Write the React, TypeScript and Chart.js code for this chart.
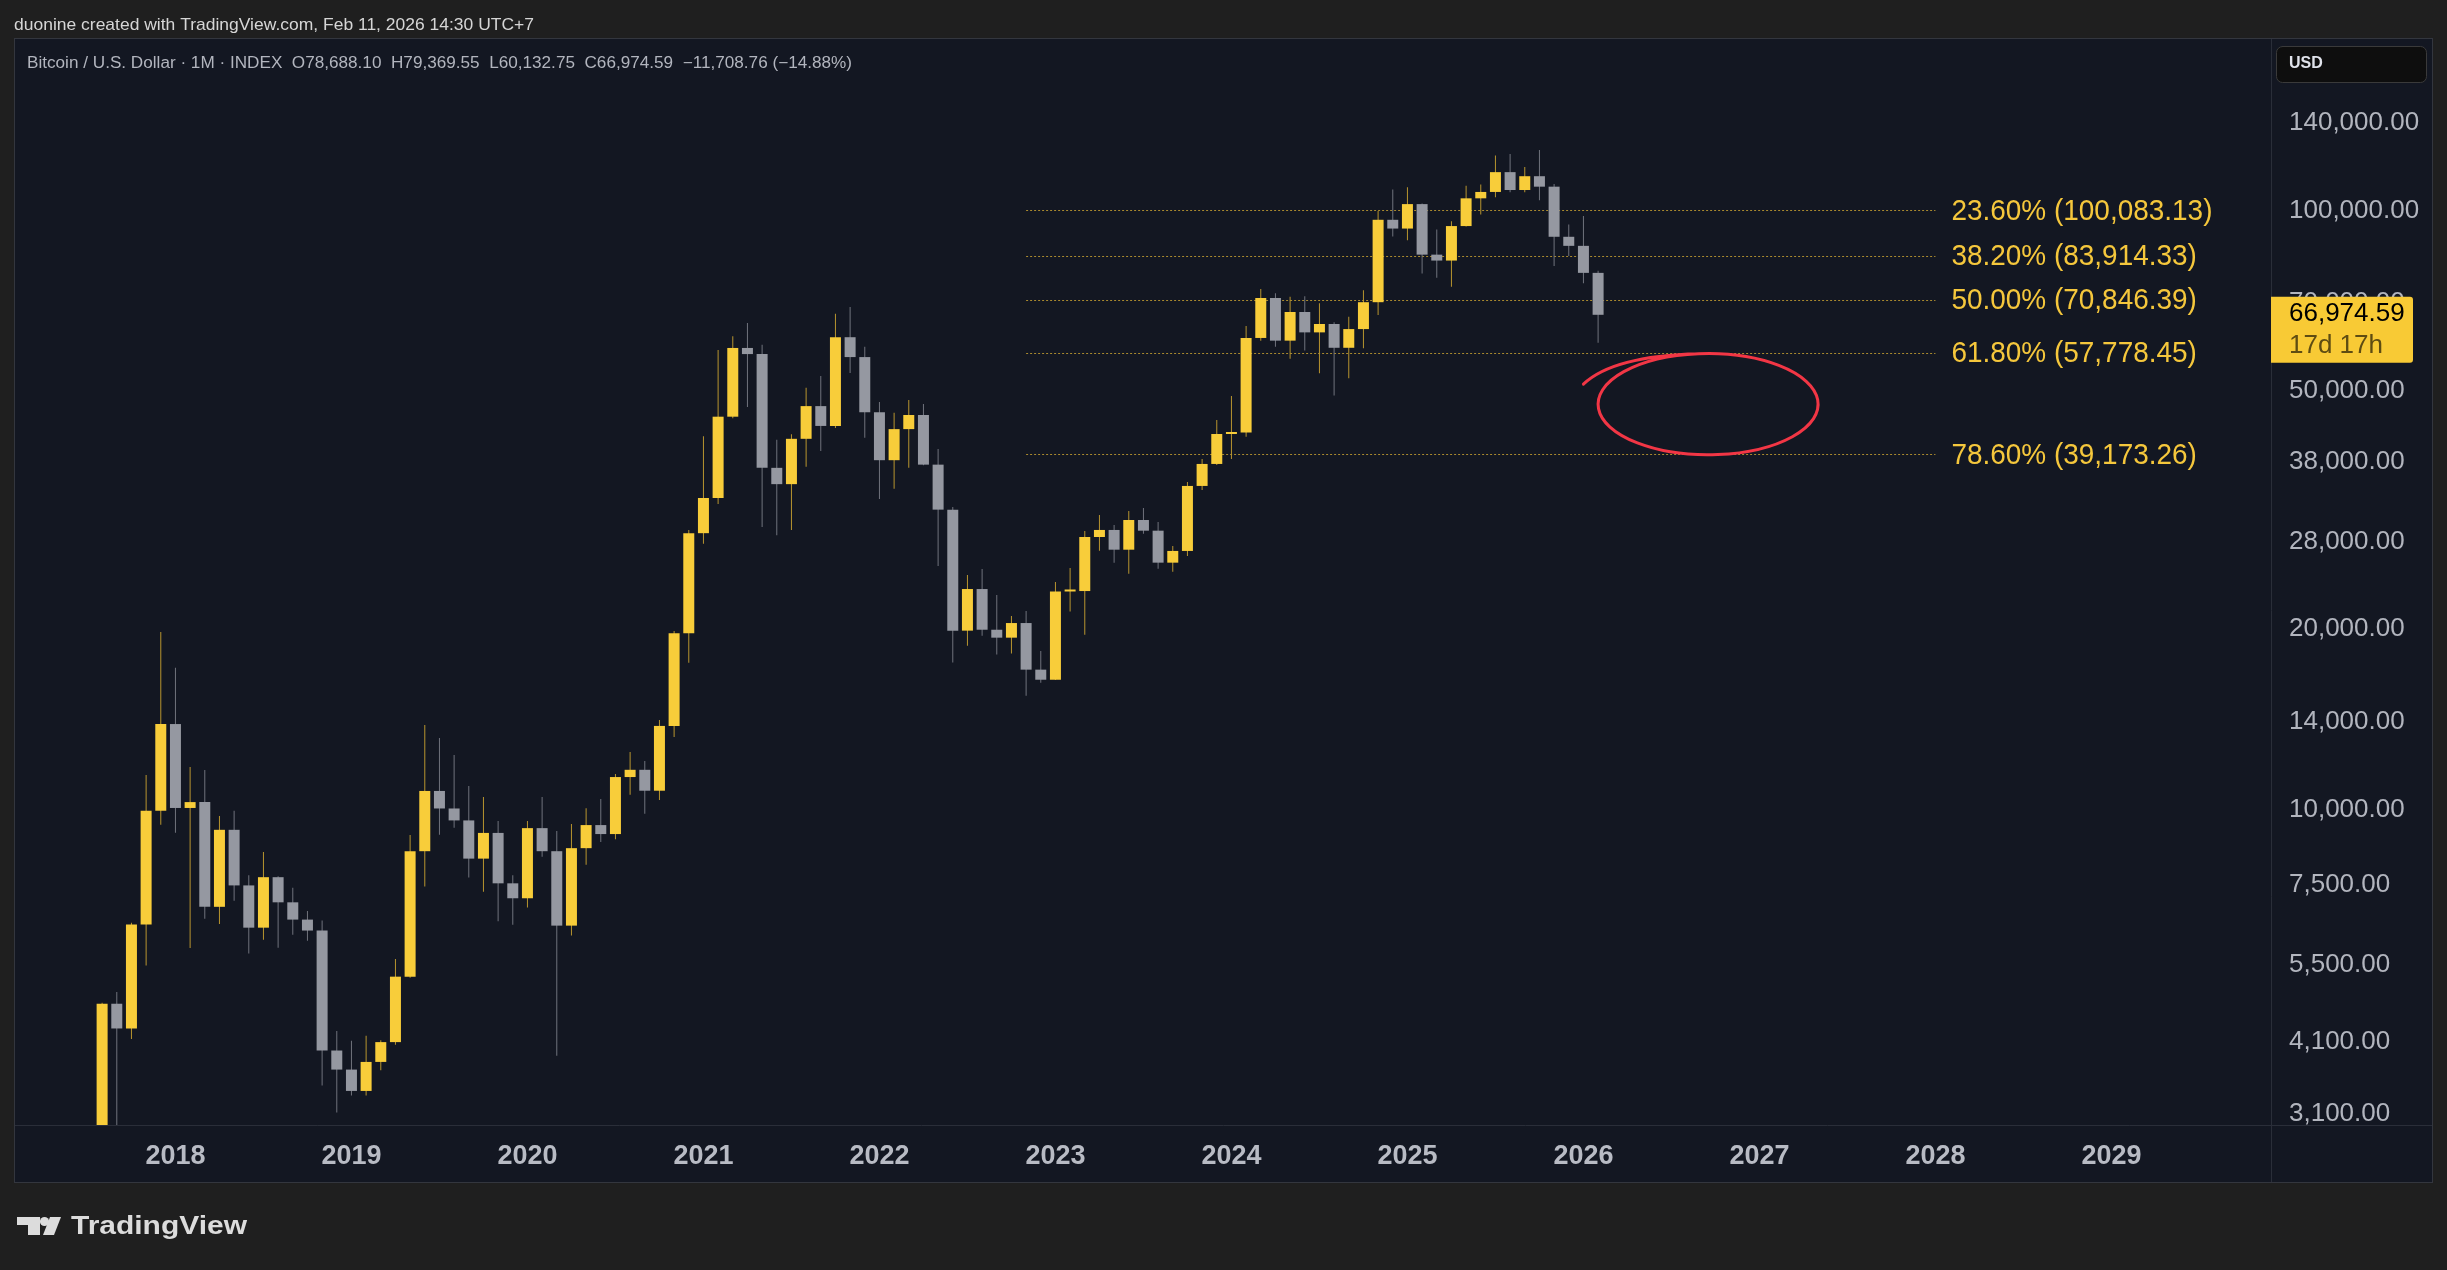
import React, { useEffect, useRef } from "react";
import { Chart, registerables } from "chart.js";

Chart.register(...registerables);

const W = 2447;
const H = 1270;
const FONT = "'Liberation Sans', Arial, sans-serif";

// ---------------- data ----------------
const startMonth = "2017-08";

const opens = [
  2871, 4740, 4310, 6430, 9950, 13890, 10060, 10290, 6880, 9250, 7470, 6350,
  7710, 7000, 6550, 6280, 3960, 3680, 3390, 3790, 4090, 5260, 8520, 10740,
  10040, 9590, 8280, 9140, 7530, 7110, 9310, 8520, 6400, 8620, 9420, 9100,
  11330, 11650, 10750, 13790, 19700, 28930, 33120, 45270, 58960, 57590, 37190, 34930,
  41580, 47150, 43690, 61450, 56930, 46050, 38300, 43160, 45570, 37650, 31670, 19890,
  23340, 19960, 19360, 20480, 17120, 16470, 23120, 23160, 28510, 29290, 27150, 30430,
  29210, 25830, 27020, 34690, 37750, 42360, 42600, 61270, 71450, 60640, 67700, 62600,
  64650, 59000, 63400, 70300, 96500, 93300, 102500, 84400, 82500, 94200, 104800, 107400,
  115900, 108200, 114100, 109600, 90400, 87300, 78688.1,
];
const highs = [
  4760, 4960, 6470, 11420, 19780, 17240, 11780, 11640, 9750, 9950, 7770, 8490,
  7740, 7400, 6770, 6530, 4270, 4110, 4190, 4120, 5630, 9070, 13840, 13170,
  12330, 10950, 10490, 9570, 7770, 9570, 10490, 9210, 9460, 10050, 10410, 11460,
  12470, 12050, 14110, 19860, 29280, 42010, 58510, 61700, 64920, 59670, 41430, 42330,
  50600, 52940, 67240, 69000, 59210, 47900, 45950, 48270, 47530, 39980, 32000, 24630,
  25210, 22810, 21040, 21450, 18400, 23980, 25310, 29170, 31020, 29850, 31500, 31870,
  30200, 27540, 35230, 38480, 44710, 49020, 64160, 73960, 72740, 71810, 71950, 70000,
  65100, 66500, 73600, 99800, 108400, 109400, 102700, 93000, 96000, 110000, 110500, 123500,
  124300, 118200, 126200, 110700, 94800, 97900, 79369.55,
];
const lows = [
  2600, 2970, 4140, 5490, 9430, 9150, 5870, 6570, 6440, 7040, 5750, 6060,
  5880, 6180, 6040, 3460, 3120, 3330, 3330, 3670, 4050, 5240, 7440, 9080,
  9320, 7700, 7290, 6510, 6420, 6860, 8340, 3880, 6160, 8090, 8830, 8920,
  10580, 9840, 10370, 13210, 17580, 27770, 32350, 45000, 46980, 29630, 28710, 29280,
  37350, 39680, 43330, 53550, 41750, 32990, 34310, 37210, 37580, 25500, 17590, 18770,
  19510, 18140, 18210, 15490, 16280, 16450, 21400, 19580, 27050, 25830, 24760, 28880,
  25240, 24950, 26500, 34150, 37600, 38480, 41920, 60600, 59260, 56580, 58400, 53500,
  49100, 52500, 58900, 66900, 90500, 89200, 78500, 77200, 74600, 94000, 98500, 105200,
  107300, 107300, 104000, 80800, 84000, 75600, 60132.75,
];
const closes = [
  4740, 4310, 6430, 9950, 13890, 10060, 10290, 6880, 9250, 7470, 6350, 7710,
  7000, 6550, 6280, 3960, 3680, 3390, 3790, 4090, 5260, 8520, 10740, 10040,
  9590, 8280, 9140, 7530, 7110, 9310, 8520, 6400, 8620, 9420, 9100, 11330,
  11650, 10750, 13790, 19700, 28930, 33120, 45270, 58960, 57590, 37190, 34930, 41580,
  47150, 43690, 61450, 56930, 46050, 38300, 43160, 45570, 37650, 31670, 19890, 23340,
  19960, 19360, 20480, 17120, 16470, 23120, 23160, 28510, 29290, 27150, 30430, 29210,
  25830, 27020, 34690, 37750, 42360, 42600, 61270, 71450, 60640, 67700, 62600, 64650,
  59000, 63400, 70300, 96500, 93300, 102500, 84400, 82500, 94200, 104800, 107400, 115900,
  108200, 114100, 109600, 90400, 87300, 78688.1, 66974.59,
];

const yTickValues = [3100, 4100, 5500, 7500, 10000, 14000, 20000, 28000, 38000, 50000, 70000, 100000, 140000];
const yearLabels = ["2018", "2019", "2020", "2021", "2022", "2023", "2024", "2025", "2026", "2027", "2028", "2029"];

const fibPercents = ["23.60%", "38.20%", "50.00%", "61.80%", "78.60%"];
const fibLevels = [100083.13, 83914.33, 70846.39, 57778.45, 39173.26];
const fibStartMonth = "2022-11";
const fibEndMonth = "2028-01";

const circleMonths = ["2026-02", "2027-05"];
const circlePrices = [57700, 39100];
const circleTailMonth = "2026-01";
const circleTailPrice = 51300;

const viewMonths = [-10.94, 142.88];
const viewPrices = [2974, 193350];

const headerText = "duonine created with TradingView.com, Feb 11, 2026 14:30 UTC+7";
const legendText =
  "Bitcoin / U.S. Dollar \u00b7 1M \u00b7 INDEX  O78,688.10  H79,369.55  L60,132.75  C66,974.59  \u221211,708.76 (\u221214.88%)";
const countdownText = "17d 17h";
const currencyText = "USD";
const brandText = "TradingView";

// ---------------- styles ----------------
const OUTER_BG = "#1f1f1f";
const PANEL_BG = "#131722";
const SEP = "#2a2e39";
const UP_BODY = "#f8cd3a";
const DOWN_BODY = "#9598a1";
const UP_WICK = "#b8952f";
const DOWN_WICK = "#70737d";
const AXIS_TEXT = "#b2b5be";
const FIB_LINE = "#a98a2f";
const FIB_TEXT = "#f5c73c";
const TAG_BG = "#f8ca35";
const RED = "#f23645";

function monthIndex(s: string): number {
  const [y, m] = s.split("-").map(Number);
  return (y - 2018) * 12 + (m - 1);
}

function fmt2(v: number): string {
  return v.toLocaleString("en-US", { minimumFractionDigits: 2, maximumFractionDigits: 2 });
}

function drawScaledText(ctx: CanvasRenderingContext2D, text: string, x: number, y: number, scaleX: number, font: string, color: string) {
  ctx.save();
  ctx.font = font;
  ctx.translate(x, y);
  ctx.scale(scaleX, 1);
  ctx.fillStyle = color;
  ctx.textAlign = "left";
  ctx.textBaseline = "middle";
  ctx.fillText(text, 0, 0);
  ctx.restore();
}

function fitText(ctx: CanvasRenderingContext2D, text: string, x: number, y: number, width: number, font: string, color: string) {
  ctx.save();
  ctx.font = font;
  const w = ctx.measureText(text).width;
  ctx.restore();
  drawScaledText(ctx, text, x, y, width / w, font, color);
}

const decor = {
  id: "decor",
  beforeDraw(chart: any) {
    const { ctx, chartArea } = chart;
    const xs = chart.scales.x;
    const ys = chart.scales.y;
    ctx.save();
    ctx.fillStyle = OUTER_BG;
    ctx.fillRect(0, 0, W, H);
    ctx.fillStyle = PANEL_BG;
    ctx.fillRect(chartArea.left, chartArea.top, ys.right - chartArea.left, xs.bottom - chartArea.top);
    ctx.restore();
  },
  beforeDatasetsDraw(chart: any) {
    const { ctx } = chart;
    const xs = chart.scales.x;
    const ys = chart.scales.y;
    const x0 = xs.getPixelForValue(monthIndex(fibStartMonth));
    const x1 = xs.getPixelForValue(monthIndex(fibEndMonth));
    ctx.save();
    ctx.strokeStyle = FIB_LINE;
    ctx.lineWidth = 1;
    ctx.setLineDash([2, 2]);
    fibLevels.forEach((v) => {
      const y = Math.round(ys.getPixelForValue(v)) + 0.5;
      ctx.beginPath();
      ctx.moveTo(x0, y);
      ctx.lineTo(x1, y);
      ctx.stroke();
    });
    ctx.restore();
  },
  afterDraw(chart: any) {
    const { ctx, chartArea } = chart;
    const xs = chart.scales.x;
    const ys = chart.scales.y;
    const L = chartArea.left;
    const T = chartArea.top;
    const R = ys.right;
    const B = xs.bottom;
    ctx.save();

    // panel border + separators
    ctx.strokeStyle = "#33363e";
    ctx.lineWidth = 1;
    ctx.strokeRect(L - 0.5, T - 0.5, R - L + 1, B - T + 1);
    ctx.strokeStyle = SEP;
    ctx.beginPath();
    ctx.moveTo(Math.round(chartArea.right) + 0.5, T);
    ctx.lineTo(Math.round(chartArea.right) + 0.5, B);
    ctx.moveTo(L, Math.round(chartArea.bottom) + 0.5);
    ctx.lineTo(R, Math.round(chartArea.bottom) + 0.5);
    ctx.stroke();

    // fib labels
    const x1 = xs.getPixelForValue(monthIndex(fibEndMonth));
    const fibFont = `30px ${FONT}`;
    ctx.font = fibFont;
    const firstLabel = `${fibPercents[0]} (${fmt2(fibLevels[0])})`;
    const sx = 261 / ctx.measureText(firstLabel).width;
    fibLevels.forEach((v, i) => {
      const label = `${fibPercents[i]} (${fmt2(v)})`;
      drawScaledText(ctx, label, x1 + 16, ys.getPixelForValue(v) + 1, sx, fibFont, FIB_TEXT);
    });

    // red hand-drawn circle
    const cxL = xs.getPixelForValue(monthIndex(circleMonths[0]));
    const cxR = xs.getPixelForValue(monthIndex(circleMonths[1]));
    const cyT = ys.getPixelForValue(circlePrices[0]);
    const cyB = ys.getPixelForValue(circlePrices[1]);
    const cx = (cxL + cxR) / 2;
    const cy = (cyT + cyB) / 2;
    const rx = (cxR - cxL) / 2;
    const ry = (cyB - cyT) / 2;
    const tx = xs.getPixelForValue(monthIndex(circleTailMonth));
    const ty = ys.getPixelForValue(circleTailPrice);
    const a0 = (-95 * Math.PI) / 180;
    const ex = cx + rx * Math.cos(a0);
    const ey = cy + ry * Math.sin(a0);
    ctx.strokeStyle = RED;
    ctx.lineWidth = 3;
    ctx.lineCap = "round";
    ctx.lineJoin = "round";
    ctx.beginPath();
    ctx.moveTo(tx, ty);
    ctx.quadraticCurveTo(tx + 30, ey + 2, ex, ey);
    ctx.ellipse(cx, cy, rx, ry, 0, a0, a0 + 2 * Math.PI + (25 * Math.PI) / 180);
    ctx.stroke();

    // USD box
    const ux = chartArea.right + 5;
    const uy = T + 7;
    ctx.fillStyle = "#0e0e0e";
    ctx.strokeStyle = "#3a3a3a";
    ctx.lineWidth = 1;
    ctx.beginPath();
    ctx.roundRect(ux + 0.5, uy + 0.5, 150, 36, 6);
    ctx.fill();
    ctx.stroke();
    ctx.fillStyle = "#e0e3eb";
    ctx.font = `bold 16px ${FONT}`;
    ctx.textBaseline = "middle";
    ctx.textAlign = "left";
    ctx.fillText(currencyText, ux + 13, uy + 18);

    // last price tag
    const last = closes[closes.length - 1];
    const yc = ys.getPixelForValue(last);
    ctx.fillStyle = TAG_BG;
    ctx.beginPath();
    ctx.roundRect(chartArea.right, yc - 18, 142, 66, [0, 3, 3, 0]);
    ctx.fill();
    ctx.font = `26px ${FONT}`;
    ctx.fillStyle = "#000000";
    ctx.fillText(fmt2(last), chartArea.right + 18, yc - 1);
    ctx.fillStyle = "#5e4c12";
    ctx.fillText(countdownText, chartArea.right + 18, yc + 31);

    // header texts
    fitText(ctx, headerText, 14, 25, 520, `17px ${FONT}`, "#d6d6d6");
    fitText(ctx, legendText, 27, 64, 825, `16px ${FONT}`, AXIS_TEXT);

    // TradingView logo
    const ly = 3;
    ctx.fillStyle = "#dcdcdc";
    ctx.fillRect(17, 1214 + ly, 23, 8);
    ctx.fillRect(28, 1214 + ly, 12, 18);
    ctx.beginPath();
    ctx.arc(44.5, 1218.5 + ly, 4.6, 0, Math.PI * 2);
    ctx.fill();
    ctx.beginPath();
    ctx.moveTo(50, 1214 + ly);
    ctx.lineTo(61, 1214 + ly);
    ctx.lineTo(54, 1232 + ly);
    ctx.lineTo(43, 1232 + ly);
    ctx.closePath();
    ctx.fill();
    fitText(ctx, brandText, 71, 1224 + ly, 176, `bold 25px ${FONT}`, "#dcdcdc");

    ctx.restore();
  },
};

export default function App() {
  const ref = useRef<HTMLCanvasElement>(null);

  useEffect(() => {
    const canvas = ref.current;
    if (!canvas) return;
    const m0 = monthIndex(startMonth);
    const xsVals = opens.map((_, i) => m0 + i);
    const isUp = opens.map((o, i) => closes[i] >= o);

    const chart = new Chart(canvas, {
      type: "bar",
      data: {
        datasets: [
          {
            label: "wick",
            data: xsVals.map((x, i) => ({ x, y: [lows[i], highs[i]] })) as any,
            backgroundColor: isUp.map((u) => (u ? UP_WICK : DOWN_WICK)),
            barThickness: 1,
            grouped: false,
            order: 2,
            borderWidth: 0,
            inflateAmount: 0,
          } as any,
          {
            label: "body",
            data: xsVals.map((x, i) => ({ x, y: [opens[i], closes[i]] })) as any,
            backgroundColor: isUp.map((u) => (u ? UP_BODY : DOWN_BODY)),
            barThickness: 11,
            grouped: false,
            order: 1,
            borderWidth: 0,
            inflateAmount: 0,
            minBarLength: 2,
          } as any,
        ],
      },
      options: {
        responsive: false,
        animation: false,
        devicePixelRatio: 1,
        layout: { padding: { left: 15, top: 39, right: 15, bottom: 88 } },
        plugins: { legend: { display: false }, tooltip: { enabled: false } },
        scales: {
          x: {
            type: "linear",
            offset: false,
            min: viewMonths[0],
            max: viewMonths[1],
            grid: { display: false },
            border: { display: false },
            afterBuildTicks: (s: any) => {
              s.ticks = yearLabels.map((_, i) => ({ value: i * 12 }));
            },
            afterFit: (s: any) => {
              s.height = 57;
            },
            ticks: {
              autoSkip: false,
              maxRotation: 0,
              padding: 7,
              color: "#b8bbc4",
              font: { family: FONT, size: 27, weight: "bold" },
              callback: (v: any) => yearLabels[Math.round(Number(v) / 12)] ?? "",
            },
          },
          y: {
            type: "logarithmic",
            position: "right",
            min: viewPrices[0],
            max: viewPrices[1],
            grid: { display: false },
            border: { display: false },
            afterBuildTicks: (s: any) => {
              s.ticks = yTickValues.map((v) => ({ value: v }));
            },
            afterFit: (s: any) => {
              s.width = 161;
            },
            ticks: {
              autoSkip: false,
              padding: 10,
              color: AXIS_TEXT,
              font: { family: FONT, size: 26 },
              callback: (v: any) => fmt2(Number(v)),
            },
          },
        },
      } as any,
      plugins: [decor],
    });
    return () => chart.destroy();
  }, []);

  return (
    <div style={{ position: "fixed", left: 0, top: 0, width: W, height: H, background: OUTER_BG }}>
      <canvas ref={ref} width={W} height={H} style={{ display: "block", width: W, height: H }} />
    </div>
  );
}
